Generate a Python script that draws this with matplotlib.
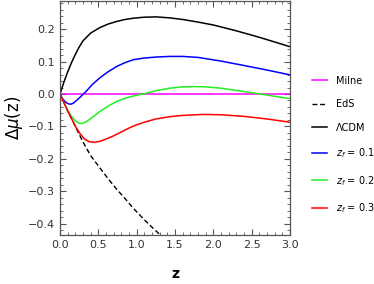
import numpy as np
import matplotlib
matplotlib.use("Agg")
import matplotlib.pyplot as plt
from matplotlib.ticker import MultipleLocator

# values
z_lcdm = [0, 0.05, 0.1, 0.15, 0.2, 0.25, 0.3, 0.4, 0.52, 0.63, 0.74, 0.85, 0.96, 1.1,
          1.25, 1.43, 1.6, 1.8, 2.0, 2.3, 2.6, 3.0]
mu_lcdm = [0, 0.036, 0.068, 0.097, 0.122, 0.145, 0.164, 0.188, 0.205, 0.216, 0.224,
           0.230, 0.234, 0.237, 0.238, 0.235, 0.230, 0.222, 0.213, 0.195, 0.175, 0.146]

z_eds = [0, 0.1, 0.2, 0.3, 0.4, 0.52, 0.63, 0.74, 0.85, 0.95, 1.1, 1.2, 1.3, 1.4]
mu_eds = [0, -0.052, -0.10, -0.148, -0.19, -0.228, -0.262, -0.294, -0.323, -0.351,
          -0.388, -0.411, -0.433, -0.455]

z_f01 = [0, 0.03, 0.06, 0.09, 0.12, 0.15, 0.18, 0.22, 0.27, 0.34, 0.42, 0.52, 0.63,
         0.74, 0.85, 0.96, 1.1, 1.25, 1.43, 1.6, 1.8, 2.09, 2.4, 2.7, 3.0]
mu_f01 = [0, -0.013, -0.022, -0.028, -0.031, -0.031, -0.027, -0.019, -0.008, 0.008,
          0.029, 0.050, 0.069, 0.085, 0.097, 0.106, 0.111, 0.114, 0.116, 0.116, 0.113,
          0.102, 0.088, 0.074, 0.059]

z_f02 = [0, 0.05, 0.1, 0.15, 0.2, 0.24, 0.28, 0.32, 0.36, 0.42, 0.52, 0.63, 0.74,
         0.85, 0.96, 1.08, 1.25, 1.43, 1.6, 1.75, 1.9, 2.1, 2.3, 2.61, 2.8, 3.0]
mu_f02 = [0, -0.026, -0.050, -0.069, -0.083, -0.089, -0.091, -0.088, -0.083, -0.072,
          -0.054, -0.037, -0.023, -0.013, -0.006, 0.0, 0.010, 0.018, 0.022, 0.023,
          0.022, 0.018, 0.011, 0.0, -0.007, -0.014]

z_f03 = [0, 0.1, 0.2, 0.26, 0.32, 0.38, 0.45, 0.52, 0.6, 0.7, 0.8, 0.9, 1.0, 1.1,
         1.25, 1.43, 1.6, 1.87, 2.1, 2.4, 2.7, 3.0]
mu_f03 = [0, -0.052, -0.099, -0.122, -0.139, -0.147, -0.149, -0.146, -0.139, -0.129,
          -0.117, -0.105, -0.095, -0.087, -0.077, -0.070, -0.066, -0.063, -0.064,
          -0.069, -0.077, -0.087]

z_milne = [0, 3.0]
mu_milne = [0, 0]

fig = plt.figure(figsize=(3.74, 2.84), dpi=100)
ax = fig.add_axes([60 / 374, 1 - 235 / 284, 230 / 374, 234 / 284])

lw = 1.1
ax.plot(z_milne, mu_milne, color="#ff00ff", lw=lw, label="Milne")
ax.plot(z_eds, mu_eds, color="black", lw=1.0, ls=(0, (3.5, 2)), label="EdS")
ax.plot(z_lcdm, mu_lcdm, color="black", lw=lw, label="\u039bCDM")
ax.plot(z_f01, mu_f01, color="#0000ff", lw=lw, label="$z_f$ = 0.1")
ax.plot(z_f02, mu_f02, color="#22ee22", lw=lw, label="$z_f$ = 0.2")
ax.plot(z_f03, mu_f03, color="#ff0000", lw=lw, label="$z_f$ = 0.3")

ax.set_xlim(0, 3.0)
ax.set_ylim(-0.435, 0.287)

ax.xaxis.set_major_locator(MultipleLocator(0.5))
ax.xaxis.set_minor_locator(MultipleLocator(0.1))
ax.yaxis.set_major_locator(MultipleLocator(0.1))
ax.yaxis.set_minor_locator(MultipleLocator(0.02))
ax.xaxis.set_major_formatter(plt.FuncFormatter(lambda v, p: f"{v:.1f}"))
ax.yaxis.set_major_formatter(plt.FuncFormatter(
    lambda v, p: f"{v:.1f}".replace("-", "\u2212") if abs(v) > 1e-9 else "0.0"))

ax.tick_params(which="both", direction="in", top=True, right=True,
               color="#555555", labelsize=8, labelcolor="#333333")
ax.tick_params(which="major", length=4, width=0.8)
ax.tick_params(which="minor", length=2, width=0.6)
for s in ax.spines.values():
    s.set_color("#555555")
    s.set_linewidth(0.9)

ax.set_xlabel("z", fontsize=10, fontweight="bold", labelpad=12)
ax.set_ylabel("\u0394$\\mu$(z)", fontsize=12, labelpad=2)

fig.legend(loc="upper left", bbox_to_anchor=(307 / 374, 1 - 71 / 284),
           frameon=False, fontsize=7, handlelength=1.6, handletextpad=0.9,
           labelspacing=1.39, borderpad=0)

fig.savefig("out.png", dpi=100)
